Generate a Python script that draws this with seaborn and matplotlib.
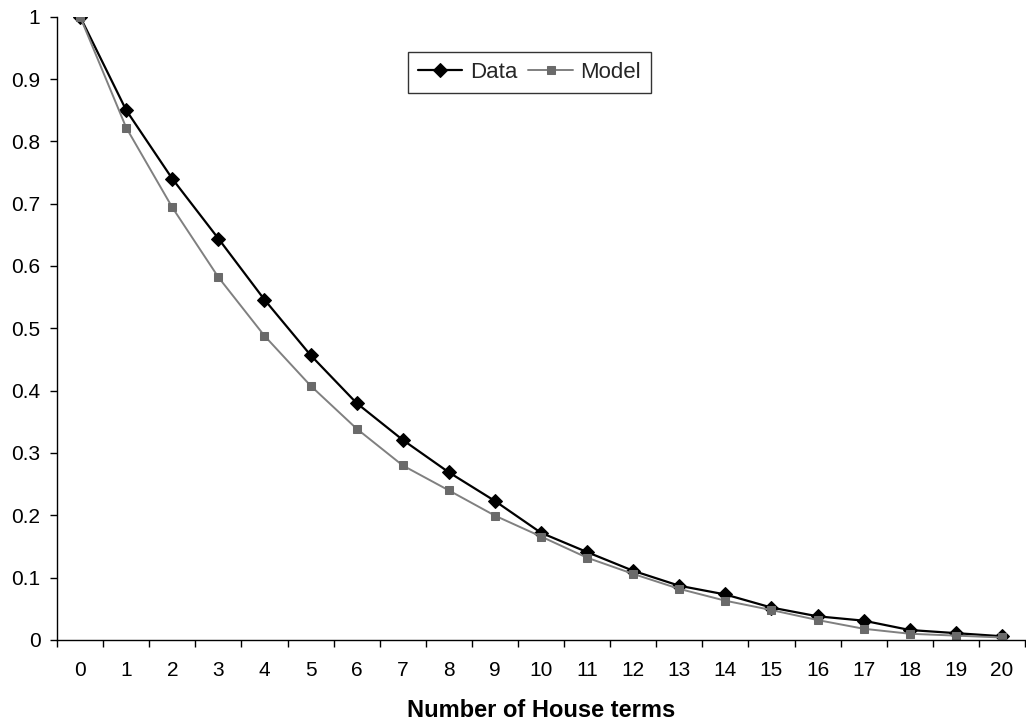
import matplotlib
matplotlib.use("Agg")
import matplotlib.pyplot as plt
import seaborn as sns
import pandas as pd
from matplotlib.ticker import FixedLocator

terms = list(range(0, 21))
data_vals = [1.0, 0.85, 0.74, 0.644, 0.546, 0.457, 0.380, 0.321, 0.269, 0.223, 0.172,
             0.141, 0.111, 0.087, 0.073, 0.052, 0.038, 0.031, 0.016, 0.011, 0.006]
model_vals = [1.0, 0.822, 0.694, 0.582, 0.488, 0.408, 0.339, 0.280, 0.240, 0.1995, 0.166,
              0.132, 0.106, 0.082, 0.063, 0.048, 0.032, 0.018, 0.010, 0.007, 0.004]
xlabel = "Number of House terms"
yticks = [0, 0.1, 0.2, 0.3, 0.4, 0.5, 0.6, 0.7, 0.8, 0.9, 1]
ytick_labels = ["0", "0.1", "0.2", "0.3", "0.4", "0.5", "0.6", "0.7", "0.8", "0.9", "1"]

sns.set_theme(style="white")
plt.rcParams['font.family'] = ['Liberation Sans', 'DejaVu Sans']

df_data = pd.DataFrame({"x": terms, "y": data_vals})
df_model = pd.DataFrame({"x": terms, "y": model_vals})

fig = plt.figure(figsize=(10.26, 7.28), dpi=100)
ax = fig.add_axes([0.0556, 0.1209, 0.9434, 0.8562])

sns.lineplot(data=df_data, x="x", y="y", ax=ax, color="black", linewidth=1.6,
             marker="D", markersize=7, markeredgecolor="black", markerfacecolor="black",
             label="Data")
sns.lineplot(data=df_model, x="x", y="y", ax=ax, color="#808080", linewidth=1.4,
             marker="s", markersize=6.3, markeredgecolor="#6a6a6a", markerfacecolor="#6a6a6a",
             label="Model")

ax.set_xlim(-0.5, 20.5)
ax.set_ylim(0, 1)
ax.xaxis.set_major_locator(FixedLocator(terms))
ax.set_xticklabels([str(t) for t in terms])
ax.xaxis.set_minor_locator(FixedLocator([t - 0.5 for t in terms] + [20.5]))
ax.set_yticks(yticks)
ax.set_yticklabels(ytick_labels)

ax.tick_params(axis="x", which="major", length=0, pad=15, labelsize=15, colors="black")
ax.tick_params(axis="x", which="minor", length=5, width=1, direction="out", color="black", bottom=True)
ax.tick_params(axis="y", which="major", length=5, width=1, direction="out", color="black",
               left=True, labelsize=15, pad=7, labelcolor="black")

for s in ["top", "right"]:
    ax.spines[s].set_visible(False)
for s in ["left", "bottom"]:
    ax.spines[s].set_color("black")
    ax.spines[s].set_linewidth(1)

ax.set_xlabel(xlabel, fontsize=17, fontweight="bold", labelpad=14, color="black")
ax.set_ylabel("")

leg = ax.legend(ncol=2, loc="upper left", bbox_to_anchor=(0.3626, 0.9434), fontsize=16,
                frameon=True, fancybox=False, handlelength=2.0, columnspacing=0.5,
                handletextpad=0.33, borderpad=0.45, borderaxespad=0)
leg.get_frame().set_edgecolor("black")
leg.get_frame().set_linewidth(1)

fig.savefig("out.png", dpi=100)
